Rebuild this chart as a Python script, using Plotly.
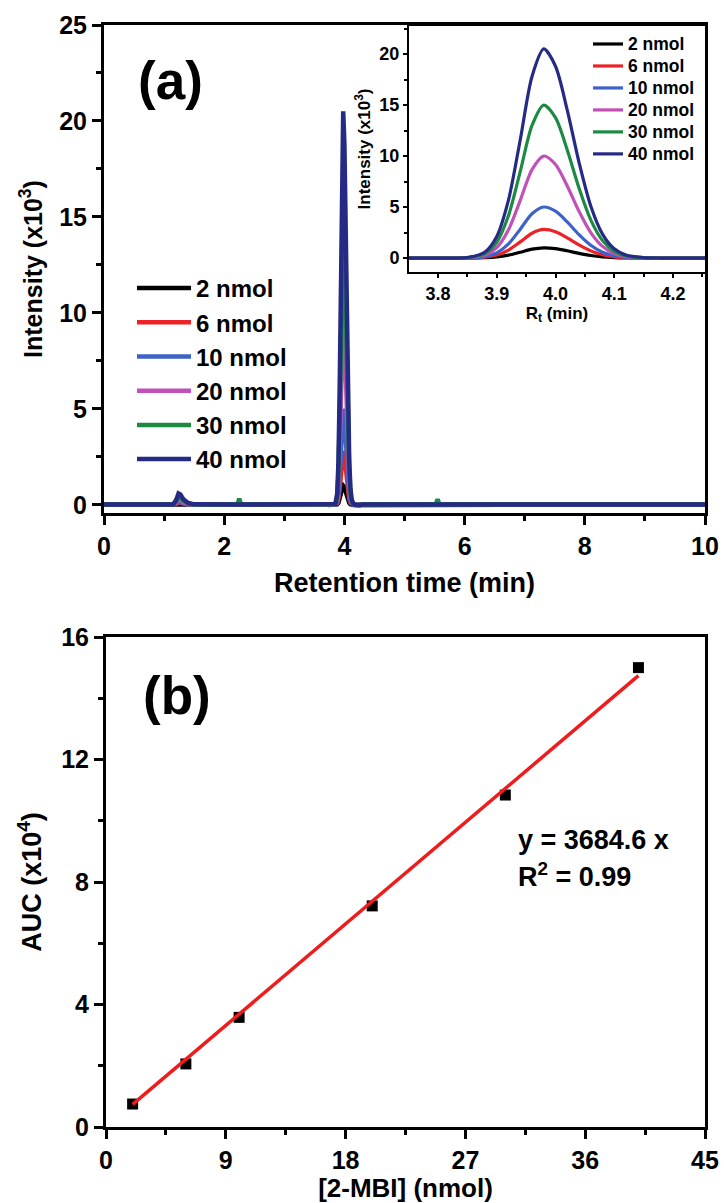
import plotly.graph_objects as go

FONT = "Liberation Sans"
W, H = 724, 1203

# ---------------- data ----------------
series_names = ["2 nmol", "6 nmol", "10 nmol", "20 nmol", "30 nmol", "40 nmol"]
series_colors = ["#000000", "#ec2227", "#3d62c8", "#c150b9", "#1d8a42", "#252b84"]

# peak region (retention time, min) shared by inset and main chromatogram
peak_rt = [3.74, 3.78, 3.82, 3.85, 3.88, 3.90, 3.92, 3.94, 3.96, 3.98, 4.00,
           4.02, 4.04, 4.06, 4.08, 4.10, 4.12, 4.15, 4.18, 4.22, 4.26]
peak_2 = [0, 0, 0, 0, 0.03, 0.10, 0.28, 0.57, 0.87, 1.0, 0.92, 0.71, 0.46, 0.25, 0.11, 0.04, 0.01, 0, 0, 0, 0]
peak_6 = [0, 0, 0, 0.01, 0.08, 0.29, 0.78, 1.58, 2.43, 2.8, 2.57, 1.98, 1.28, 0.70, 0.32, 0.12, 0.04, 0.01, 0, 0, 0]
peak_10 = [0, 0, 0, 0.01, 0.14, 0.51, 1.39, 2.83, 4.34, 5.0, 4.59, 3.54, 2.29, 1.25, 0.57, 0.22, 0.07, 0.01, 0, 0, 0]
peak_20 = [0, 0, 0, 0.02, 0.29, 1.03, 2.78, 5.66, 8.67, 10.0, 9.17, 7.07, 4.58, 2.49, 1.14, 0.44, 0.14, 0.02, 0, 0, 0]
peak_30 = [0, 0, 0, 0.04, 0.43, 1.54, 4.17, 8.49, 13.0, 15.0, 13.76, 10.6, 6.87, 3.74, 1.71, 0.66, 0.21, 0.03, 0, 0, 0]
peak_40 = [0, 0, 0, 0.05, 0.59, 2.11, 5.70, 11.6, 17.8, 20.5, 18.8, 14.5, 9.39, 5.10, 2.34, 0.90, 0.29, 0.04, 0, 0, 0]

# chromatogram before the main peak
pre_rt = [0.0, 1.15, 1.20, 1.24, 1.27, 1.32, 1.40, 1.50, 2.22, 2.25, 2.28, 3.70]
pre_2 = [0.02, 0.02, 0.03, 0.06, 0.05, 0.03, 0.02, 0.02, 0.02, 0.02, 0.02, 0.02]
pre_6 = [0.02, 0.02, 0.05, 0.12, 0.10, 0.05, 0.03, 0.02, 0.02, 0.02, 0.02, 0.02]
pre_10 = [0.02, 0.02, 0.08, 0.18, 0.15, 0.08, 0.04, 0.02, 0.02, 0.02, 0.02, 0.02]
pre_20 = [0.02, 0.02, 0.12, 0.30, 0.27, 0.14, 0.05, 0.02, 0.02, 0.02, 0.02, 0.02]
pre_30 = [0.02, 0.02, 0.18, 0.45, 0.40, 0.22, 0.07, 0.02, 0.02, 0.32, 0.02, 0.02]
pre_40 = [0.02, 0.02, 0.25, 0.60, 0.55, 0.30, 0.10, 0.03, 0.02, 0.02, 0.02, 0.02]

# chromatogram after the main peak
post_rt = [4.30, 5.52, 5.55, 5.58, 10.0]
post_2 = [0.02, 0.02, 0.02, 0.02, 0.02]
post_6 = [0.02, 0.02, 0.02, 0.02, 0.02]
post_10 = [0.02, 0.02, 0.02, 0.02, 0.02]
post_20 = [0.02, 0.02, 0.02, 0.02, 0.02]
post_30 = [0.02, 0.02, 0.30, 0.02, 0.02]
post_40 = [0.02, 0.02, 0.02, 0.02, 0.02]

peaks = [peak_2, peak_6, peak_10, peak_20, peak_30, peak_40]
pres = [pre_2, pre_6, pre_10, pre_20, pre_30, pre_40]
posts = [post_2, post_6, post_10, post_20, post_30, post_40]

# calibration (panel b)
amount_nmol = [2, 6, 10, 20, 30, 40]
auc_e4 = [0.75, 2.06, 3.58, 7.22, 10.84, 15.0]
fit_slope_e4 = 0.36846          # y = 3684.6 x  (AUC in units of 1e4)
fit_x = [2, 40]

# ---------------- figure ----------------
fig = go.Figure()

main_rt = pre_rt + peak_rt + post_rt
for name, col, pr, pk, po in zip(series_names, series_colors, pres, peaks, posts):
    fig.add_trace(go.Scatter(
        x=main_rt, y=pr + pk + po, mode="lines", name=name,
        line=dict(color=col, width=4.5), xaxis="x", yaxis="y",
        legend="legend", showlegend=True))

for name, col, pk in zip(series_names, series_colors, peaks):
    fig.add_trace(go.Scatter(
        x=peak_rt, y=pk, mode="lines",
        name="<span style='font-size:17.5px'>" + name + "</span>",
        line=dict(color=col, width=3.2, shape="spline", smoothing=0.8),
        xaxis="x3", yaxis="y3", legend="legend2", showlegend=True))

fig.add_trace(go.Scatter(
    x=amount_nmol, y=auc_e4, mode="markers", showlegend=False,
    marker=dict(symbol="square", size=11, color="#000000"),
    xaxis="x2", yaxis="y2"))
fig.add_trace(go.Scatter(
    x=fit_x, y=[fit_slope_e4 * v for v in fit_x], mode="lines", showlegend=False,
    line=dict(color="#ee1c1c", width=3.5), xaxis="x2", yaxis="y2"))


def px_x(p):
    return p / W


def px_y(p):
    return 1 - p / H


bold = dict(family=FONT, color="#000000", weight=700)

common_axis = dict(showline=True, linecolor="#000000", mirror=True, showgrid=False,
                   zeroline=False, ticks="outside", tickcolor="#000000", automargin=False)

fig.update_layout(
    width=W, height=H, margin=dict(l=0, r=0, t=0, b=0),
    paper_bgcolor="white", plot_bgcolor="white",
    font=dict(family=FONT, color="#000000"),
    xaxis=dict(common_axis, domain=[px_x(104), px_x(705)], range=[0, 10],
               linewidth=3, tickwidth=3, ticklen=9, dtick=2, tick0=0,
               tickfont=dict(bold, size=25),
               minor=dict(ticks="outside", ticklen=5, tickwidth=3, dtick=1, tickcolor="#000000"),
               title=dict(text="Retention time (min)", font=dict(bold, size=27), standoff=15),
               anchor="y"),
    yaxis=dict(common_axis, domain=[px_y(513), px_y(25)], range=[-0.42, 25],
               linewidth=3, tickwidth=3, ticklen=9, dtick=5, tick0=0,
               tickfont=dict(bold, size=25),
               minor=dict(ticks="outside", ticklen=5, tickwidth=3, dtick=2.5, tickcolor="#000000"),
               title=dict(text="Intensity (x10<sup>3</sup>)", font=dict(bold, size=25), standoff=10),
               anchor="x"),
    xaxis3=dict(common_axis, domain=[px_x(409), px_x(705)], range=[3.7506, 4.2545],
                linewidth=2, tickwidth=2, ticklen=4, dtick=0.1, tick0=3.8, tickformat=".1f",
                tickfont=dict(bold, size=18),
                minor=dict(ticks="outside", ticklen=3, tickwidth=2, dtick=0.05, tickcolor="#000000"),
                title=dict(text="R<sub>t</sub> (min)", font=dict(bold, size=17), standoff=1),
                anchor="y3"),
    yaxis3=dict(common_axis, domain=[px_y(272), px_y(26)], range=[-1.37, 22.75],
                linewidth=2, tickwidth=2, ticklen=4, dtick=5, tick0=0,
                tickfont=dict(bold, size=18),
                minor=dict(ticks="outside", ticklen=3, tickwidth=2, dtick=2.5, tickcolor="#000000"),
                title=dict(text="Intensity (x10<sup>3</sup>)", font=dict(bold, size=17), standoff=4),
                anchor="x3"),
    xaxis2=dict(common_axis, domain=[px_x(106), px_x(705)], range=[0, 45],
                linewidth=3, tickwidth=3, ticklen=9, dtick=9, tick0=0,
                tickfont=dict(bold, size=25),
                minor=dict(ticks="outside", ticklen=5, tickwidth=3, dtick=4.5, tickcolor="#000000"),
                title=dict(text="[2-MBI] (nmol)", font=dict(bold, size=26), standoff=8),
                anchor="y2"),
    yaxis2=dict(common_axis, domain=[px_y(1127), px_y(637)], range=[0, 16],
                linewidth=3, tickwidth=3, ticklen=9, dtick=4, tick0=0,
                tickfont=dict(bold, size=25),
                minor=dict(ticks="outside", ticklen=5, tickwidth=3, dtick=2, tickcolor="#000000"),
                title=dict(text="AUC (x10<sup>4</sup>)", font=dict(bold, size=27), standoff=12),
                anchor="x2"),
    legend=dict(x=px_x(132), y=px_y(266), xanchor="left", yanchor="top",
                bgcolor="rgba(0,0,0,0)", font=dict(bold, size=24),
                itemwidth=54, tracegroupgap=0),
    legend2=dict(x=px_x(588), y=px_y(28), xanchor="left", yanchor="top",
                 bgcolor="rgba(0,0,0,0)", font=dict(bold, size=14.6),
                 itemwidth=30, tracegroupgap=0),
    annotations=[
        dict(text="(a)", x=px_x(170), y=px_y(80), xref="paper", yref="paper",
             xanchor="center", yanchor="middle",
             showarrow=False, font=dict(bold, size=53)),
        dict(text="(b)", x=px_x(177), y=px_y(695), xref="paper", yref="paper",
             xanchor="center", yanchor="middle",
             showarrow=False, font=dict(bold, size=53)),
        dict(text="y = 3684.6 x", x=30.8, y=9.38, xref="x2", yref="y2",
             xanchor="left", yanchor="middle",
             showarrow=False, font=dict(bold, size=27)),
        dict(text="R<sup>2</sup> = 0.99", x=30.8, y=8.24, xref="x2", yref="y2",
             xanchor="left", yanchor="middle",
             showarrow=False, font=dict(bold, size=27)),
    ],
)

fig.write_html("out.html")
